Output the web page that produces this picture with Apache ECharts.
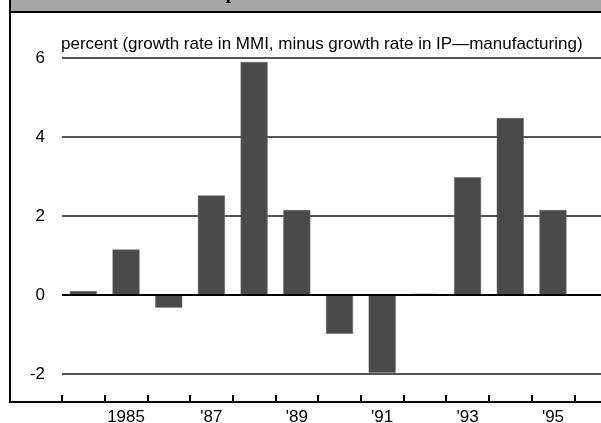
<!DOCTYPE html>
<html>
<head>
<meta charset="utf-8">
<script src="https://cdn.jsdelivr.net/npm/echarts@6/dist/echarts.min.js"></script>
<style>
  html, body { margin: 0; padding: 0; background: #fff; }
  #chart { width: 601px; height: 423px; }
</style>
</head>
<body>
<div id="chart"></div>
<script>
const years = ['1984','1985','1986','1987','1988','1989','1990','1991','1992','1993','1994','1995','1996'];
const xTickLabels = ['', '1985', '', "'87", '', "'89", '', "'91", '', "'93", '', "'95", ''];
const values = [0.10, 1.15, -0.32, 2.52, 5.90, 2.15, -0.98, -1.97, 0.03, 2.98, 4.48, 2.15, null];
const yTicks = [-2, 0, 2, 4, 6];
const axisTitle = 'percent (growth rate in MMI, minus growth rate in IP\u2014manufacturing)';

const chart = echarts.init(document.getElementById('chart'), null, { renderer: 'canvas' });
const font = '"Liberation Sans", Arial, Helvetica, sans-serif';

chart.setOption({
  animation: false,
  backgroundColor: '#ffffff',
  grid: { left: 62, width: 555, top: 58, bottom: 49, containLabel: false, outerBoundsMode: 'none' },
  xAxis: {
    type: 'category',
    data: years,
    boundaryGap: true,
    position: 'bottom',
    offset: 28,
    axisLine: { show: true, onZero: false, lineStyle: { color: '#000', width: 2 } },
    axisTick: { show: true, inside: true, length: 7, interval: 0, lineStyle: { color: '#000', width: 2 } },
    axisLabel: {
      interval: 0, margin: 7, color: '#000', fontFamily: font, fontSize: 17,
      formatter: (v, i) => xTickLabels[i]
    },
    splitLine: { show: false }
  },
  yAxis: {
    type: 'value',
    min: yTicks[0],
    max: yTicks[yTicks.length - 1],
    interval: 2,
    name: axisTitle,
    nameLocation: 'end',
    nameGap: 5,
    nameTextStyle: { color: '#000', fontFamily: font, fontSize: 17, align: 'left', padding: [0, 0, 0, -1] },
    axisLine: { show: false },
    axisTick: { show: false },
    axisLabel: { color: '#000', fontFamily: font, fontSize: 17, margin: 17 },
    splitLine: { show: true, lineStyle: { color: '#555', width: 2 } }
  },
  series: [{
    type: 'bar',
    data: values,
    barWidth: 27,
    itemStyle: { color: '#4a4a4a', borderColor: '#666', borderWidth: 0.5 },
    markLine: {
      silent: true,
      symbol: 'none',
      label: { show: false },
      lineStyle: { color: '#000', width: 2, type: 'solid' },
      data: [{ yAxis: 0 }]
    }
  }],
  graphic: [
    { type: 'rect', shape: { x: 10, y: 0, width: 591, height: 12 }, style: { fill: '#a6a6a6' }, z: 10 },
    { type: 'line', shape: { x1: 10, y1: 12, x2: 601, y2: 12 }, style: { stroke: '#000', lineWidth: 2 }, z: 11 },
    { type: 'line', shape: { x1: 10, y1: 0, x2: 10, y2: 403 }, style: { stroke: '#000', lineWidth: 2 }, z: 11 },
    { type: 'line', shape: { x1: 10, y1: 402, x2: 63, y2: 402 }, style: { stroke: '#000', lineWidth: 2 }, z: 11 },
    { type: 'text', x: 231, y: -7, style: { text: 'p', font: 'bold 20px "Liberation Serif", "Times New Roman", serif', fill: '#000', textAlign: 'center', textVerticalAlign: 'middle' }, z: 12 }
  ]
});
</script>
</body>
</html>
